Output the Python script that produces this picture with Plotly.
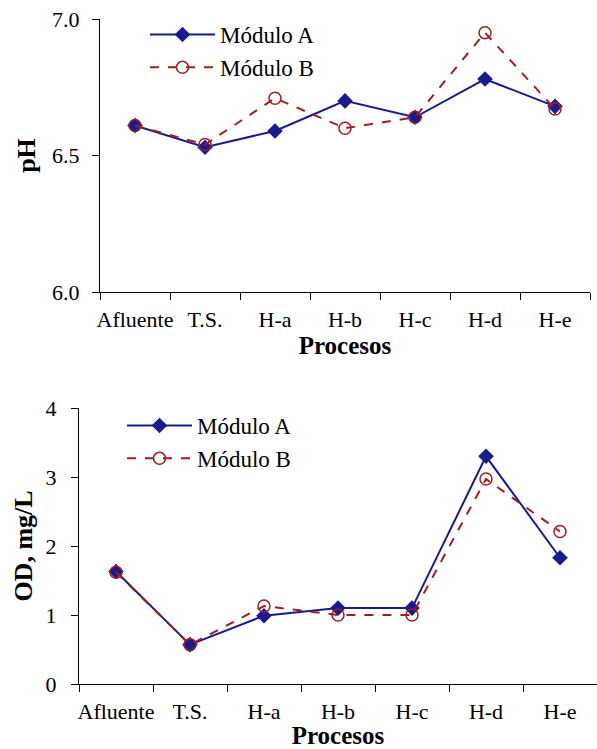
import plotly.graph_objects as go

categories = ["Afluente", "T.S.", "H-a", "H-b", "H-c", "H-d", "H-e"]
ph_a = [6.61, 6.53, 6.59, 6.70, 6.64, 6.78, 6.68]
ph_b = [6.61, 6.54, 6.71, 6.60, 6.64, 6.95, 6.67]
od_a = [1.63, 0.57, 0.99, 1.10, 1.10, 3.30, 1.83]
od_b = [1.62, 0.57, 1.13, 1.00, 1.00, 2.97, 2.21]
ph_ticks = [6.0, 6.5, 7.0]
od_ticks = [0, 1, 2, 3, 4]

W, H = 597, 749
NAVY = "#1a1a8f"
RED = "#a01e1e"
FONT = "Liberation Serif"

fig = go.Figure()

def add_pair(ya, yb, xa, yax, leg):
    fig.add_trace(go.Scatter(x=categories, y=ya, name="Módulo A", mode="lines+markers",
                             line=dict(color=NAVY, width=2),
                             marker=dict(symbol="diamond", size=12, color=NAVY),
                             xaxis=xa, yaxis=yax, legend=leg))
    fig.add_trace(go.Scatter(x=categories, y=yb, name="Módulo B", mode="lines+markers",
                             line=dict(color=RED, width=2, dash="dash"),
                             marker=dict(symbol="circle-open", size=12, color=RED, line=dict(width=1.5)),
                             xaxis=xa, yaxis=yax, legend=leg))

add_pair(ph_a, ph_b, "x", "y", "legend")
add_pair(od_a, od_b, "x2", "y2", "legend2")

def px_x(p):
    return p / W

def px_y(p):
    return (H - p) / H

axis_common = dict(showgrid=False, zeroline=False, showline=True, linecolor="black", linewidth=1.2,
                   ticks="outside", tickcolor="black", ticklen=7, tickwidth=1.2, automargin=False,
                   tickfont=dict(family=FONT, size=22, color="black"))

xcommon = dict(type="category", tickson="boundaries", range=[-0.5, 6.5], tickangle=0,
               ticklabelstandoff=7,
               title=dict(text="<b>Procesos</b>", font=dict(family=FONT, size=25, color="black"), standoff=0))

fig.update_layout(
    width=W, height=H, margin=dict(l=0, r=0, t=0, b=0),
    paper_bgcolor="white", plot_bgcolor="white",
    font=dict(family=FONT, color="black"),
    showlegend=True,
    xaxis=dict(domain=[px_x(100), px_x(590)], anchor="y", **xcommon, **axis_common),
    yaxis=dict(domain=[px_y(292), px_y(19)], anchor="x", range=[6.0, 7.0], tickvals=ph_ticks,
               tickformat=".1f", ticklabelstandoff=8,
               title=dict(text="<b>pH</b>", font=dict(family=FONT, size=26, color="black"), standoff=8),
               **axis_common),
    xaxis2=dict(domain=[px_x(79), 1.0], anchor="y2", **xcommon, **axis_common),
    yaxis2=dict(domain=[px_y(684), px_y(408)], anchor="x2", range=[0, 4], tickvals=od_ticks,
                ticklabelstandoff=10,
                title=dict(text="<b>OD, mg/L</b>", font=dict(family=FONT, size=26, color="black"), standoff=5),
                **axis_common),
    legend=dict(x=px_x(145), y=px_y(13), xanchor="left", yanchor="top",
                font=dict(family=FONT, size=23, color="black"), bgcolor="rgba(0,0,0,0)",
                itemwidth=65, tracegroupgap=0),
    legend2=dict(x=px_x(122), y=px_y(404), xanchor="left", yanchor="top",
                 font=dict(family=FONT, size=23, color="black"), bgcolor="rgba(0,0,0,0)",
                 itemwidth=65, tracegroupgap=0),
)

fig.write_html("out.html")
